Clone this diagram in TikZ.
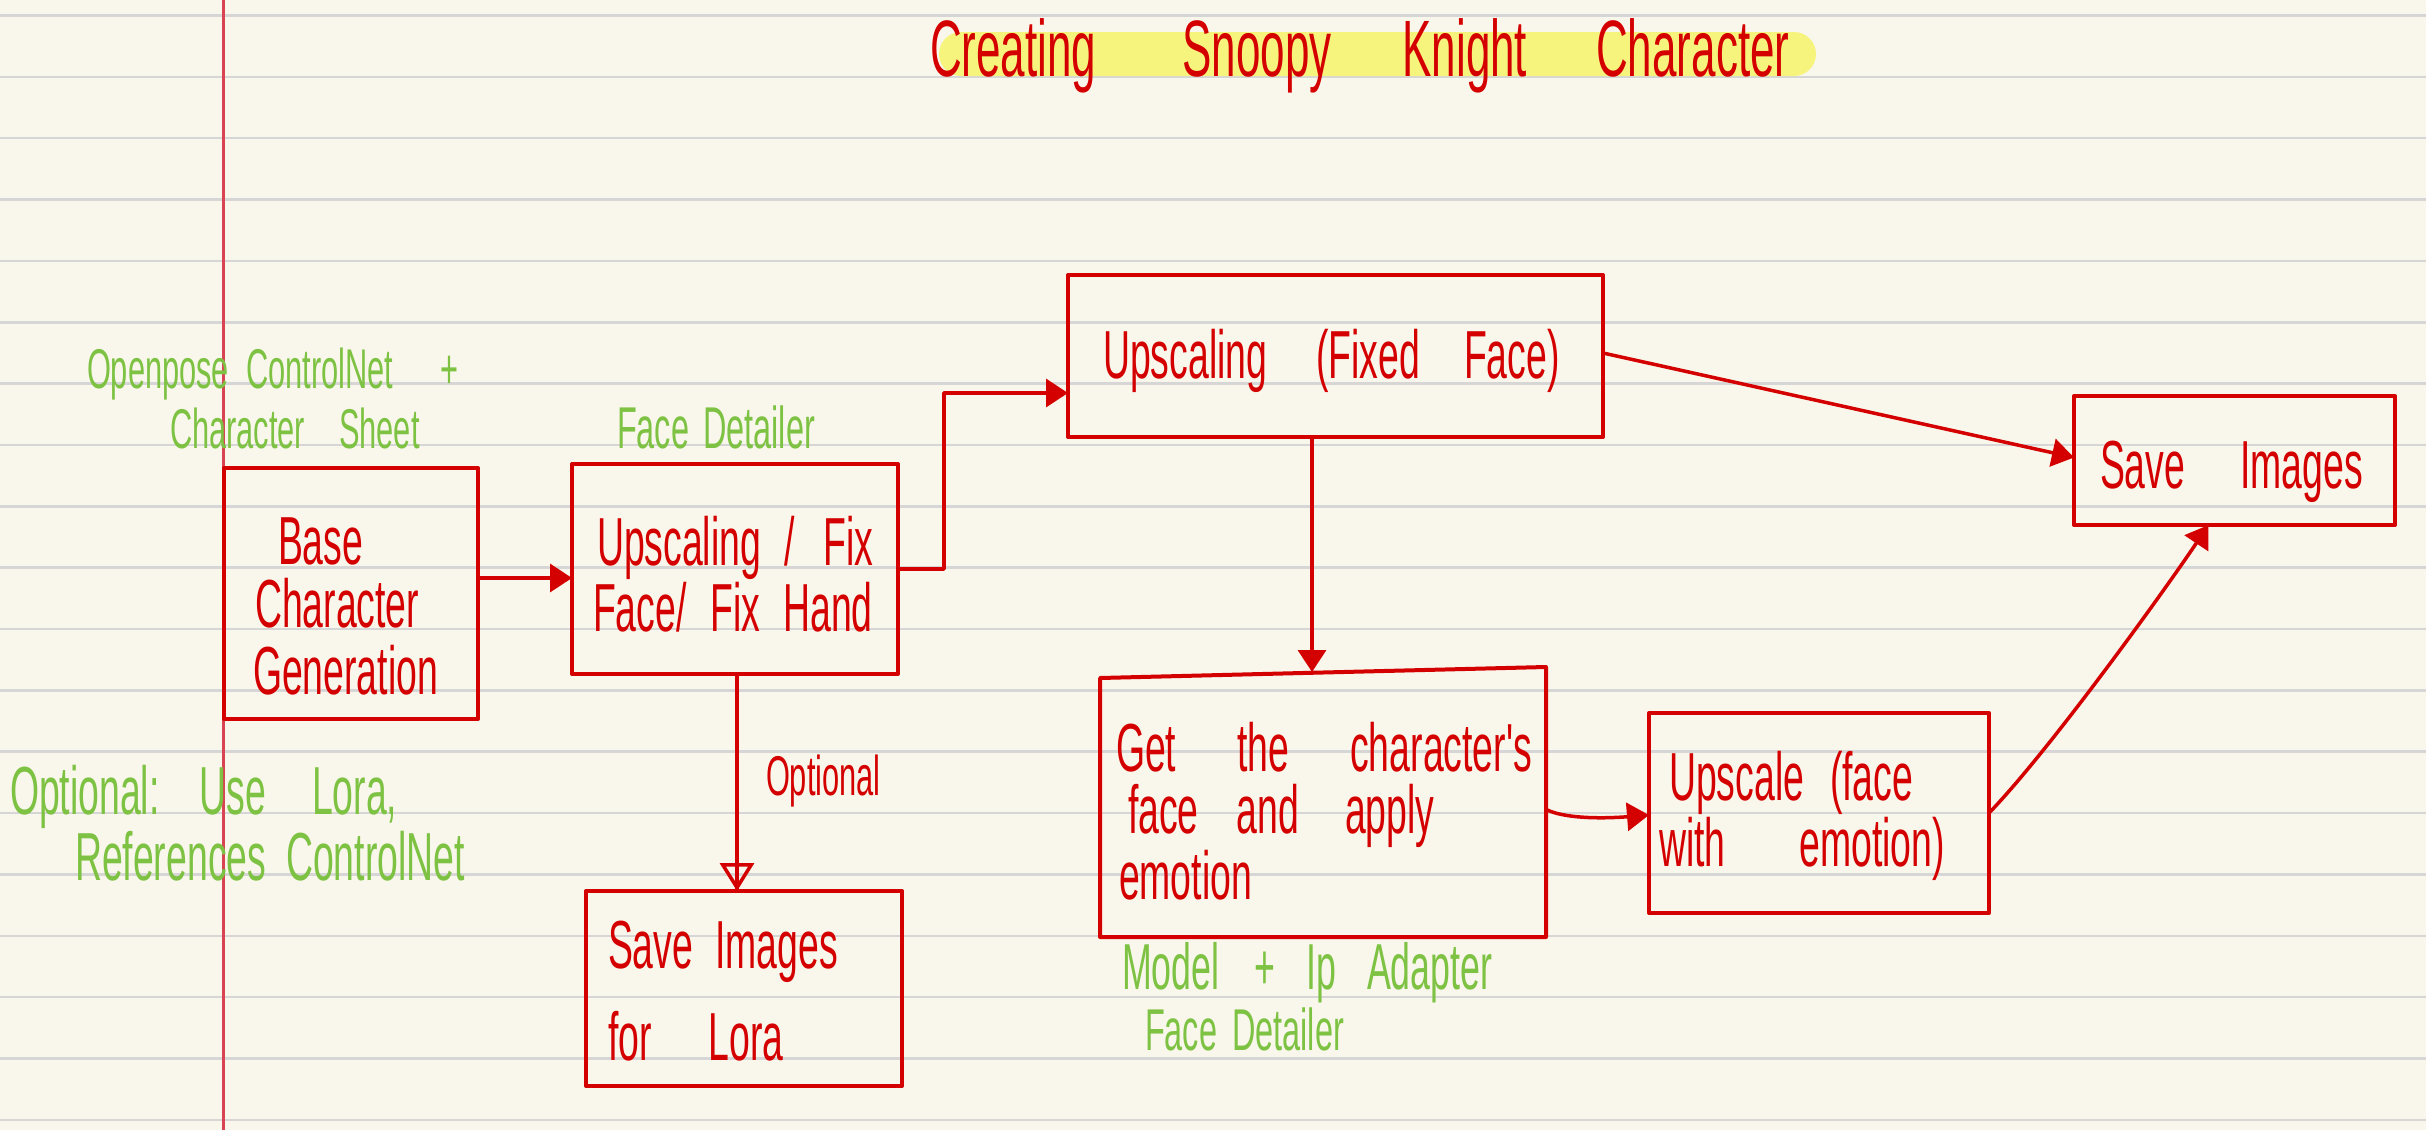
\documentclass[tikz,border=0pt]{standalone}
\usepackage{fontspec}
\newfontfamily\handfont[FakeStretch=0.55]{Liberation Sans}
\usetikzlibrary{arrows.meta,calc}
\definecolor{paper}{HTML}{F9F7EB}
\definecolor{rulegrey}{HTML}{D6D6D6}
\definecolor{marginred}{HTML}{D84452}
\definecolor{ink}{HTML}{D40000}
\definecolor{leaf}{HTML}{7DC242}
\definecolor{hilite}{HTML}{F7F475}
\newcommand\gp[1]{\hspace*{#1pt}}
\newcommand\fsz[1]{\fontsize{#1}{#1}\selectfont}
\begin{document}
\begin{tikzpicture}[x=1pt,y=-1pt,
  box/.style={draw=ink,line width=4pt,inner sep=0pt,outer sep=0pt,line join=round},
  ghost/.style={draw=none,inner sep=0pt,outer sep=0pt},
  txt/.style={inner sep=0pt,outer sep=0pt,anchor=base west,text=ink,font=\handfont\fsz{#1}},
  txt/.default=68,
  note/.style={txt=#1,text=leaf},
  note/.default=59,
  wire/.style={draw=ink,line width=3.5pt,line cap=round,line join=round},
  arr/.style={wire,-{Triangle[length=22pt,width=28pt]}},
  openarr/.style={wire,-{Triangle[open,length=28pt,width=34pt]}},
]
\useasboundingbox (0,0) rectangle (2426,1130);
\fill[paper] (0,0) rectangle (2426,1130);
\foreach \k in {0,...,18}
  \draw[rulegrey,line width=2.5pt] (0,{15.5+61.35*\k}) -- (2426,{15.5+61.35*\k});
\draw[marginred,line width=3pt] (223.5,0) -- (223.5,1130);
\fill[hilite,opacity=0.92,rounded corners=22pt] (939,32) rectangle (1816,76);

% title
\node[txt=80] (title) at (930,76) {Creating\gp{86}Snoopy\gp{71}Knight\gp{69}Character};

% boxes
\node[box,minimum width=254pt,minimum height=251pt] (base) at (351,593.5) {};
\node[box,minimum width=326pt,minimum height=210pt] (face) at (735,569) {};
\node[box,minimum width=535pt,minimum height=162pt] (fixed) at (1335.5,356) {};
\node[box,minimum width=321pt,minimum height=129pt] (save) at (2234.5,460.5) {};
\node[ghost,minimum width=446pt,minimum height=265pt] (get) at (1323,804.5) {};
\draw[box] (get.south west) -- (get.south east) -- ([yshift=5pt]get.north east) -- ([yshift=-6pt]get.north west) -- cycle;
\node[box,minimum width=340pt,minimum height=200pt] (upscale) at (1819,813) {};
\node[box,minimum width=316pt,minimum height=195pt] (lora) at (744,988.5) {};

% box texts
\node[txt] (tb1) at (278,564) {Base};
\node[txt] (tb2) at (255,627) {Character};
\node[txt] (tb3) at (253,694) {Generation};

\node[txt] (tf1) at (597,565) {Upscaling\gp{23}/\gp{29}Fix};
\node[txt] (tf2) at (593,631) {Face/\gp{24}Fix\gp{23}Hand};

\node[txt] (tx1) at (1103,378) {Upscaling\gp{49}(Fixed\gp{44}Face)};

\node[txt] (ts1) at (2100,488) {Save\gp{55}Images};

\node[txt] (tg1) at (1116,771) {Get\gp{61}the\gp{61}character's};
\node[txt] (tg2) at (1128,833) {face\gp{38}and\gp{46}apply};
\node[txt] (tg3) at (1119,899) {emotion};

\node[txt] (tu1) at (1669,800) {Upscale\gp{26}(face};
\node[txt] (tu2) at (1659,866) {with\gp{74}emotion)};

\node[txt] (tl1) at (608,968) {Save\gp{22}Images};
\node[txt] (tl2) at (608,1060) {for\gp{57}Lora};

\node[txt=56] (topt) at (766,795) {Optional};

% green notes
\node[note=56] (n11) at (87,388) {Openpose\gp{17}ControlNet\gp{47}+};
\node[note=56] (n12) at (170,448) {Character\gp{34}Sheet};
\node[note] (n2) at (617,448) {Face\gp{14}Detailer};
\node[note=68] (n31) at (10,814) {Optional:\gp{40}Use\gp{46}Lora,};
\node[note=68] (n32) at (75,880) {References\gp{20}ControlNet};
\node[note=65] (n41) at (1122,989) {Model\gp{35}+\gp{31}Ip\gp{31}Adapter};
\node[note] (n42) at (1145,1050) {Face\gp{15}Detailer};

% connectors
\draw[arr] ([yshift=15.5pt]base.east) -- ([yshift=-9pt]face.west);
\draw[arr] (face.east) -- ++(46,0) |- ([yshift=-37pt]fixed.west);
\draw[arr] ([yshift=3pt]fixed.east) -- ([yshift=3pt]save.west);
\draw[arr] ([xshift=-23.5pt]fixed.south) -- ([xshift=-11pt]get.north);
\draw[wire] ([xshift=2pt]face.south) -- ([xshift=-7pt]lora.north);
\draw[openarr] ([xshift=2pt]face.south) -- ([xshift=-7pt]lora.north);
\draw[arr] ([yshift=-5pt]get.east) .. controls +(25,12) and +(-25,2) .. ([yshift=-2pt]upscale.west);
\draw[arr] (upscale.east) .. controls +(60,-62) and +(-45,67) .. ([xshift=-26pt]save.south);
\end{tikzpicture}
\end{document}
